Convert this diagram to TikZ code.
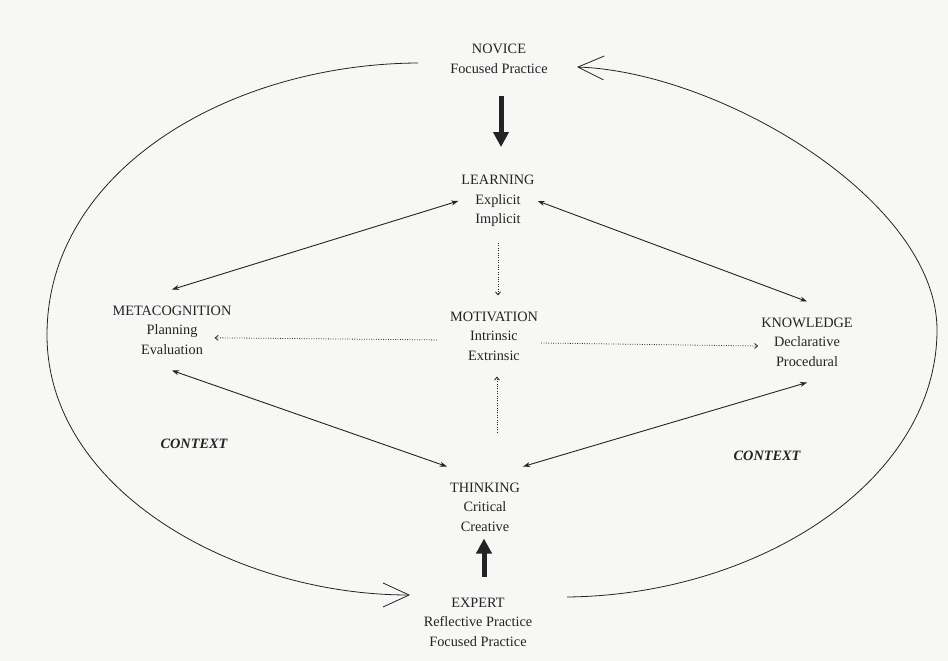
\documentclass[tikz,border=0pt]{standalone}
\usepackage{fontspec}
\setmainfont{Liberation Serif}
\usetikzlibrary{arrows.meta}
\definecolor{ink}{RGB}{35,35,35}
\definecolor{paper}{RGB}{247,247,246}

\begin{document}
\begin{tikzpicture}[
  x=1pt, y=-1pt,
  every node/.style={font=\fontsize{14.3}{19.5}\selectfont, text=ink},
  concept/.style={align=center, inner xsep=3pt, inner ysep=16pt},
  context/.style={font=\fontsize{14.3}{19.5}\selectfont\bfseries\itshape},
  link/.style={draw=ink, line width=0.9pt, {Stealth[length=7pt,width=5pt]}-{Stealth[length=7pt,width=5pt]}},
  hint/.style={draw=ink, line width=0.8pt, dash pattern=on 0.8pt off 1.6pt, -{Straight Barb[length=3pt,width=5pt]}},
  push/.style={draw=ink, line width=5pt, -{Triangle[length=15pt,width=15pt]}},
  loopline/.style={draw=ink, line width=0.8pt, -{Straight Barb[length=26pt,width=24pt,line width=0.8pt]}}]

  \fill[paper] (0,0) rectangle (948,661);
  \useasboundingbox (0,0) rectangle (948,661);

  \node[concept] (novice) at (499,59) {NOVICE\\Focused Practice};
  \node[concept] (learning) at (498,201) {LEARNING\\Explicit\\Implicit};
  \node[concept] (motivation) at (494,336) {MOTIVATION\\Intrinsic\\Extrinsic};
  \node[concept] (metacog) at (172,330) {METACOGNITION\\Planning\\Evaluation};
  \node[concept] (knowledge) at (807,342) {KNOWLEDGE\\Declarative\\Procedural};
  \node[concept] (thinking) at (485,507) {THINKING\\Critical\\Creative};
  \node[concept] (expert) at (478,622) {EXPERT\\Reflective Practice\\Focused Practice};
  \node[context] (ctxL) at (194,444) {CONTEXT};
  \node[context] (ctxR) at (767,456) {CONTEXT};

  % outer cycle
  \coordinate (novL) at (418,63);
  \coordinate (leftmid) at (47,335);
  \coordinate (expL) at (410,595);
  \coordinate (expR) at (567,597);
  \coordinate (rightmid) at (937,330);
  \coordinate (novR) at (577,67);
  \draw[loopline] (novL) .. controls (230,64) and (47,170) .. (leftmid)
    .. controls (47,490) and (235,595) .. (expL);
  \draw[loopline] (expR) .. controls (760,595) and (937,480) .. (rightmid)
    .. controls (937,200) and (720,72) .. (novR);

  % thick arrows
  \draw[push, shorten <=6pt, shorten >=12pt] ([xshift=2pt]novice.south) -- ([xshift=2pt]novice.south |- learning.north);
  \draw[push, shorten <=5pt, shorten >=-9pt] ([xshift=6pt]expert.north) -- ([xshift=6pt]expert.north |- thinking.south);

  % two-way links
  \draw[link] (metacog.north) -- (learning.west);
  \draw[link] (learning.east) -- (knowledge.north);
  \draw[link] (metacog.south) -- (thinking.north west);
  \draw[link] (knowledge.south) -- (thinking.north east);

  % dotted links
  \draw[hint] (learning.south) -- (learning.south |- motivation.north);
  \draw[hint, shorten <=34pt] ([xshift=12pt]thinking.north) -- ([xshift=3pt]motivation.south);
  \draw[hint, shorten <=10pt, shorten >=-20pt] ([yshift=-4pt]motivation.west) -- ([yshift=-8pt]metacog.east);
  \draw[hint] ([yshift=-7pt]motivation.east) -- ([yshift=-4pt]knowledge.west);
\end{tikzpicture}
\end{document}
